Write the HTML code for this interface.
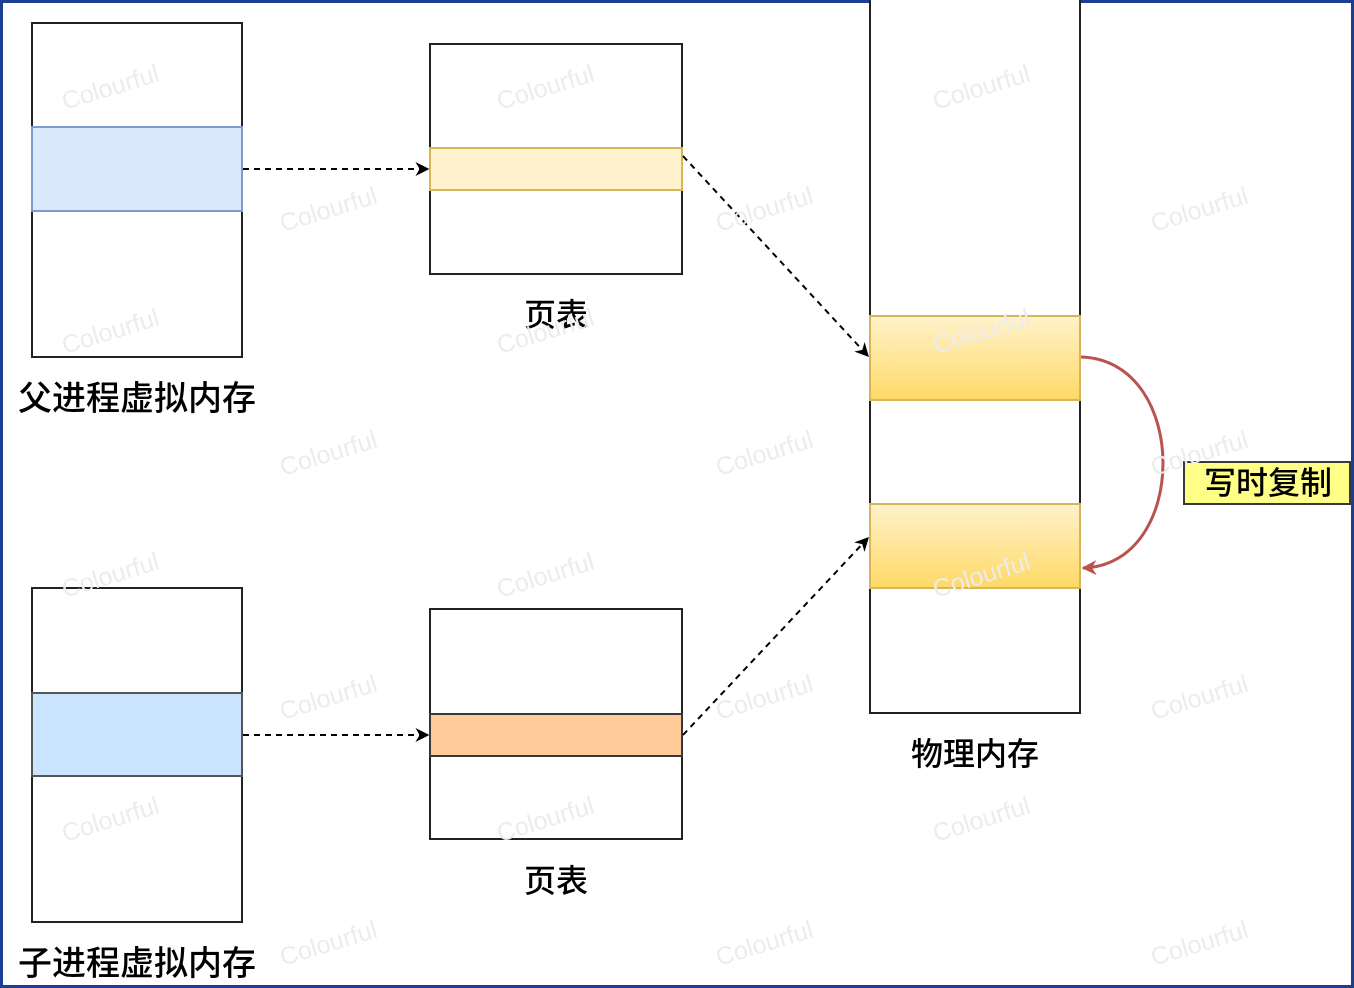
<!DOCTYPE html>
<html><head><meta charset="utf-8"><style>
html,body{margin:0;padding:0;background:#fff}
svg{display:block}
text{font-family:"Liberation Sans","Noto Sans CJK SC",sans-serif}
</style></head><body>
<svg width="1354" height="988" viewBox="0 0 1354 988" xmlns="http://www.w3.org/2000/svg">
<defs>
<linearGradient id="g" x1="0" y1="0" x2="0" y2="1"><stop offset="0" stop-color="#fff2cc"/><stop offset="1" stop-color="#ffd966"/></linearGradient>
<marker id="a" viewBox="0 0 10 10" refX="9" refY="5" markerWidth="7" markerHeight="7" orient="auto"><path d="M0,0 L10,5 L0,10 L3,5z" fill="#000"/></marker>
<marker id="r" viewBox="0 0 10 10" refX="9" refY="5" markerWidth="5" markerHeight="5" orient="auto"><path d="M0,0 L10,5 L0,10 L3,5z" fill="#b85450"/></marker>
</defs>
<rect x="0" y="0" width="1354" height="988" fill="#fff"/>
<rect x="1.5" y="1.5" width="1351" height="985" fill="none" stroke="#1b3f95" stroke-width="3"/>
<rect x="32" y="23" width="210" height="334" fill="#fff" stroke="#222" stroke-width="2"/>
<rect x="32" y="127" width="210" height="84" fill="#dae8fc" stroke="#7d9ccb" stroke-width="2"/>
<text x="137" y="410" font-size="34" font-weight="500" text-anchor="middle">父进程虚拟内存</text>
<rect x="430" y="44" width="252" height="230" fill="#fff" stroke="#222" stroke-width="2"/>
<rect x="430" y="148" width="252" height="42" fill="#fff2cc" stroke="#d6b656" stroke-width="2"/>
<text x="556" y="326" font-size="32" font-weight="500" text-anchor="middle">页表</text>
<rect x="870" y="-2" width="210" height="715" fill="#fff" stroke="#222" stroke-width="2"/>
<rect x="870" y="316" width="210" height="84" fill="url(#g)" stroke="#d6b656" stroke-width="2"/>
<rect x="870" y="504" width="210" height="84" fill="url(#g)" stroke="#d6b656" stroke-width="2"/>
<text x="975" y="765" font-size="32" font-weight="500" text-anchor="middle">物理内存</text>
<rect x="32" y="588" width="210" height="334" fill="#fff" stroke="#222" stroke-width="2"/>
<rect x="32" y="693" width="210" height="83" fill="#cce5ff" stroke="#555" stroke-width="2"/>
<text x="137" y="975" font-size="34" font-weight="500" text-anchor="middle">子进程虚拟内存</text>
<rect x="430" y="609" width="252" height="230" fill="#fff" stroke="#222" stroke-width="2"/>
<rect x="430" y="714" width="252" height="42" fill="#ffcc99" stroke="#36393d" stroke-width="2"/>
<text x="556" y="892" font-size="32" font-weight="500" text-anchor="middle">页表</text>
<g stroke="#000" stroke-width="2" stroke-dasharray="6,5" fill="none" marker-end="url(#a)">
<line x1="243" y1="169" x2="428" y2="169"/>
<line x1="683" y1="156" x2="868" y2="356"/>
<line x1="243" y1="735" x2="428" y2="735"/>
<line x1="683" y1="735" x2="868" y2="538"/>
</g>
<path d="M1081,357 C1190,360 1190,565 1083,568" fill="none" stroke="#b85450" stroke-width="3" marker-end="url(#r)"/>
<rect x="1184" y="462" width="166" height="42" fill="#ffff88" stroke="#36393d" stroke-width="2"/>
<text x="1268" y="494" font-size="32" font-weight="500" text-anchor="middle">写时复制</text>
<g fill="#ececec" font-size="25">
<text transform="translate(65,110) rotate(-17)">Colourful</text>
<text transform="translate(500,110) rotate(-17)">Colourful</text>
<text transform="translate(936,110) rotate(-17)">Colourful</text>
<text transform="translate(283,232) rotate(-17)">Colourful</text>
<text transform="translate(719,232) rotate(-17)">Colourful</text>
<text transform="translate(1154,232) rotate(-17)">Colourful</text>
<text transform="translate(65,354) rotate(-17)">Colourful</text>
<text transform="translate(500,354) rotate(-17)">Colourful</text>
<text transform="translate(936,354) rotate(-17)">Colourful</text>
<text transform="translate(283,476) rotate(-17)">Colourful</text>
<text transform="translate(719,476) rotate(-17)">Colourful</text>
<text transform="translate(1154,476) rotate(-17)">Colourful</text>
<text transform="translate(65,598) rotate(-17)">Colourful</text>
<text transform="translate(500,598) rotate(-17)">Colourful</text>
<text transform="translate(936,598) rotate(-17)">Colourful</text>
<text transform="translate(283,720) rotate(-17)">Colourful</text>
<text transform="translate(719,720) rotate(-17)">Colourful</text>
<text transform="translate(1154,720) rotate(-17)">Colourful</text>
<text transform="translate(65,842) rotate(-17)">Colourful</text>
<text transform="translate(500,842) rotate(-17)">Colourful</text>
<text transform="translate(936,842) rotate(-17)">Colourful</text>
<text transform="translate(283,966) rotate(-17)">Colourful</text>
<text transform="translate(719,966) rotate(-17)">Colourful</text>
<text transform="translate(1154,966) rotate(-17)">Colourful</text>
</g>
</svg>
</body></html>
